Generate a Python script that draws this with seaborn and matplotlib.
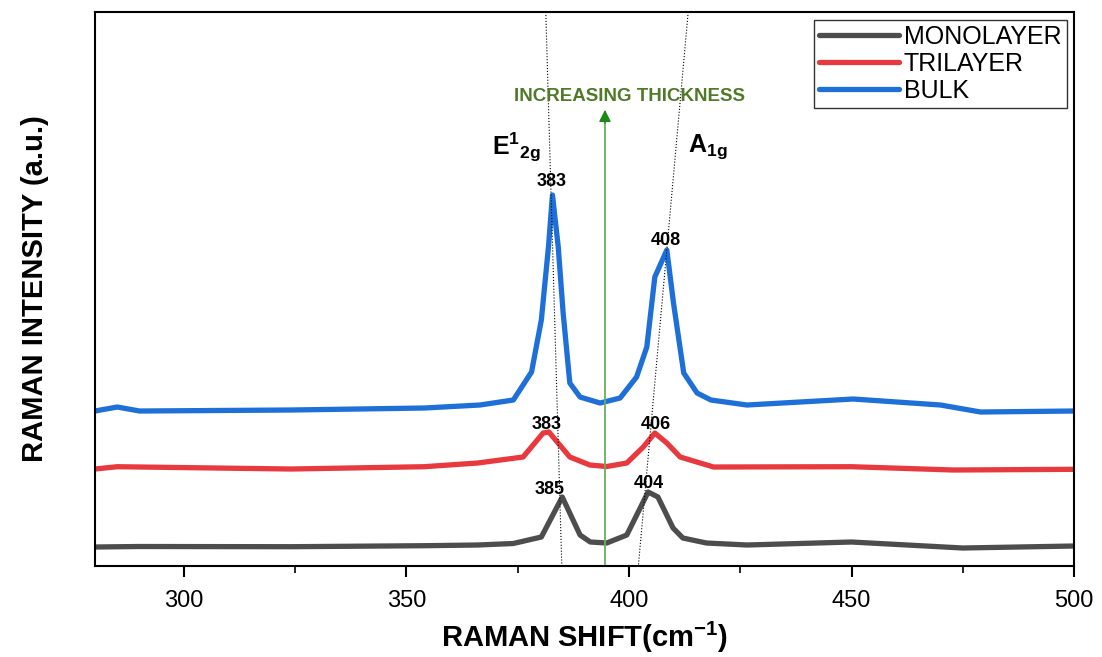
import numpy as np
import pandas as pd
import matplotlib
matplotlib.use("Agg")
import matplotlib.pyplot as plt
import seaborn as sns

# ---- data ----
mono_x = [280, 290, 324, 354, 366, 374, 380.3, 385, 389, 391.3, 395, 399.5, 404.3,
          406.5, 409.9, 412.1, 417.4, 426.5, 450, 475, 500]
mono_y = [19, 19.5, 19.3, 20.3, 21, 22.5, 29, 69, 31, 24, 23, 31, 74,
          69, 38, 28, 23, 21, 24, 18, 20]

tri_x = [280, 285, 324, 354, 366, 376.2, 380.7, 382, 383.5, 386.7, 391.2, 395, 399.5,
         403.2, 405.8, 408.5, 411.5, 419, 450, 473, 500]
tri_y = [97, 99.3, 97, 99.3, 103, 109, 133, 134, 126, 109, 101, 99.5, 103,
         119, 133, 123, 109, 99, 99.3, 96, 96.7]

bulk_x = [280, 285, 290, 324, 354, 366.5, 374, 378.1, 380.3, 381.9, 382.8, 384.1, 385.2,
          386.7, 389, 393.5, 398, 401.7, 404, 405.8, 408.5, 410, 412.3, 415.3, 418.4,
          426.5, 450.4, 470, 479, 500]
bulk_y = [155, 159, 155, 156, 158, 161, 166, 194, 246, 319, 371, 319, 253,
          183, 169, 163, 168, 189, 219, 289, 316, 263, 193, 173, 166,
          161, 167, 161, 154, 155]

samples = ["MONOLAYER", "TRILAYER", "BULK"]
colors = ["#4d4d4d", "#e8393f", "#1f6fd8"]

df = pd.concat([
    pd.DataFrame({"shift": mono_x, "intensity": mono_y, "sample": "MONOLAYER"}),
    pd.DataFrame({"shift": tri_x, "intensity": tri_y, "sample": "TRILAYER"}),
    pd.DataFrame({"shift": bulk_x, "intensity": bulk_y, "sample": "BULK"}),
])

sns.set_style("white")
plt.rcParams['font.family'] = ['Liberation Sans', 'DejaVu Sans']
plt.rcParams['text.color'] = 'black'
plt.rcParams['axes.labelcolor'] = 'black'
plt.rcParams['xtick.color'] = 'black'
plt.rcParams['mathtext.fontset'] = 'custom'
plt.rcParams['mathtext.rm'] = 'Liberation Sans'
plt.rcParams['mathtext.bf'] = 'Liberation Sans:bold'

fig = plt.figure(figsize=(11.02, 6.57), dpi=100)
ax = fig.add_axes([0.0862, 0.1385, 0.8884, 0.8432])

sns.lineplot(data=df, x="shift", y="intensity", hue="sample", hue_order=samples,
             palette=colors, estimator=None, lw=3.8, ax=ax,
             solid_capstyle="round", solid_joinstyle="round")

ax.set_xlim(280, 500)
ax.set_ylim(0, 554)
ax.set_yticks([])
ax.set_xticks([300, 350, 400, 450, 500])
ax.set_xticks([325, 375, 425, 475], minor=True)
ax.tick_params(axis="x", which="major", direction="out", length=8, width=1.5,
               labelsize=17, bottom=True, pad=9)
ax.tick_params(axis="x", which="minor", direction="out", length=5, width=1.2, bottom=True)
for sp in ax.spines.values():
    sp.set_linewidth(1.5)
    sp.set_color("black")

ax.set_xlabel("RAMAN SHIFT(cm$^{\\mathbf{-1}}$)", fontsize=21, fontweight="bold", labelpad=6)
ax.set_ylabel("RAMAN INTENSITY (a.u.)", fontsize=21, fontweight="bold", labelpad=33)

# guide lines following the peak shift
ax.plot([381.3, 384.9], [554, 0], ls=":", color="black", lw=0.8)
ax.plot([413.3, 402.1], [554, 0], ls=":", color="black", lw=0.8)

# thickness arrow
ax.plot([394.6, 394.6], [0, 445], color="#6aae62", lw=1.3)
ax.annotate("", xy=(394.6, 459), xytext=(394.6, 440),
            arrowprops=dict(arrowstyle="-|>", color="#1b8a1b", mutation_scale=18, lw=1))
ax.text(400, 470, "INCREASING THICKNESS", color="#4f7a28", fontsize=13.5,
        fontweight="bold", ha="center", va="center")

# mode labels
ax.text(374.6, 419, r"$\mathbf{E^{1}{}_{2g}}$", fontsize=18, ha="center", va="center")
ax.text(417.8, 419, r"$\mathbf{A_{1g}}$", fontsize=18, ha="center", va="center")

# peak labels
peak_labels = [(382.7, 385, "383"), (408.3, 326, "408"),
               (381.6, 142, "383"), (406.1, 142, "406"),
               (382.2, 77, "385"), (404.5, 83, "404")]
for px, py, t in peak_labels:
    ax.text(px, py, t, fontsize=13, fontweight="bold", ha="center", va="center")

leg = ax.legend(loc="upper right", fontsize=18, frameon=True, fancybox=False,
                edgecolor="black", handlelength=3.2, handletextpad=0.2,
                labelspacing=0.12, borderpad=0.2, borderaxespad=0.3)
leg.get_frame().set_linewidth(1.0)
for line in leg.get_lines():
    line.set_linewidth(3.8)

fig.savefig("out.png", dpi=100)
